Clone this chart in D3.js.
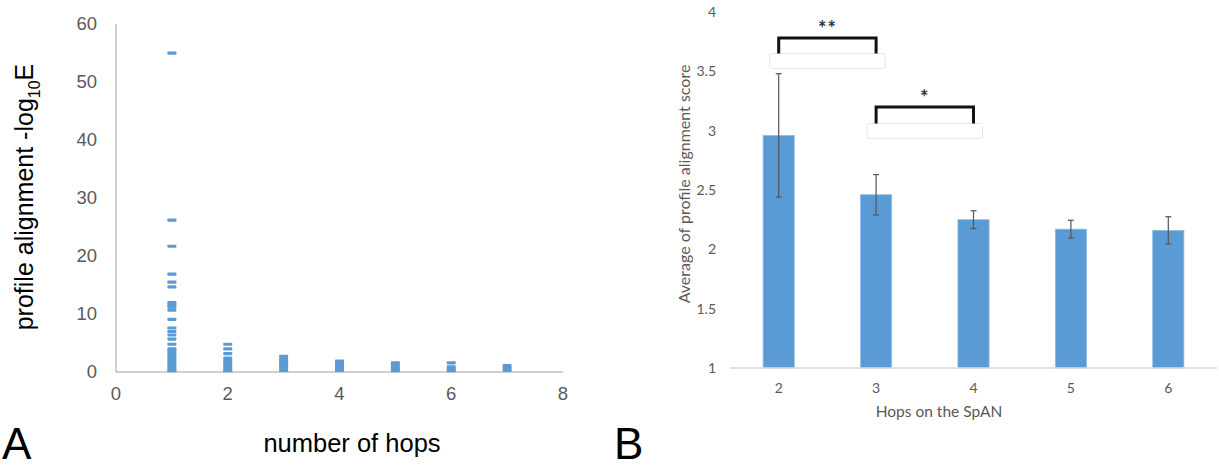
<!DOCTYPE html>
<html>
<head>
<meta charset="utf-8">
<script src="https://cdn.jsdelivr.net/npm/d3@7"></script>
<style>
  body { margin: 0; background: #fff; }
  svg { display: block; }
</style>
</head>
<body>
<svg id="chart" width="1219" height="469"></svg>
<script>
// Panel A: profile alignment (-log10 E) against number of hops
const hops = [1, 2, 3, 4, 5, 6, 7];
const scores = [
  [55, 26.2, 21.7, 16.9, 15.5, 14.7, 12.0, 11.6, 11.2, 10.7, 9.1, 7.6, 7.0, 6.4, 5.7, 4.8,
   4.0, 3.6, 3.2, 2.8, 2.4, 2.0, 1.6, 1.2, 0.8, 0.4, 0.1],
  [4.8, 4.0, 3.2, 2.4, 2.0, 1.6, 1.2, 0.8, 0.4, 0.1],
  [2.7, 2.3, 1.9, 1.5, 1.1, 0.7, 0.3],
  [1.9, 1.5, 1.1, 0.7, 0.3],
  [1.6, 1.2, 0.8, 0.4, 0.1],
  [1.6, 0.9, 0.5, 0.1],
  [1.1, 0.7, 0.3]
];
const xTicksA = [0, 2, 4, 6, 8];
const yTicksA = [0, 10, 20, 30, 40, 50, 60];

// Panel B: average profile alignment score by hops on the SpAN
const hopCats = ['2', '3', '4', '5', '6'];
const avgScore = [2.96, 2.46, 2.25, 2.17, 2.16];
const errScore = [0.52, 0.17, 0.075, 0.075, 0.115];
const yTicksB = [1, 1.5, 2, 2.5, 3, 3.5, 4];
const yTickLabelsB = ['1', '1.5', '2', '2.5', '3', '3.5', '4'];
const sigPairs = [
  { a: '2', b: '3', label: '**', top: 3.78, leg: 3.65 },
  { a: '3', b: '4', label: '*', top: 3.20, leg: 3.06 }
];

const svg = d3.select('#chart');
const blue = '#5b9bd5';
const grey = '#595959';

// ---------- panel A ----------
const xA = d3.scaleLinear().domain([0, 8]).range([116, 563]);
const yA = d3.scaleLinear().domain([0, 60]).range([372, 24]);

const gA = svg.append('g').attr('font-family', 'Liberation Sans, Arial, sans-serif');

gA.append('line')
  .attr('x1', xA(0)).attr('x2', xA(0))
  .attr('y1', yA(60)).attr('y2', yA(0))
  .attr('stroke', '#bfbfbf').attr('stroke-width', 1.5);
gA.append('line')
  .attr('x1', xA(0)).attr('x2', xA(8))
  .attr('y1', yA(0)).attr('y2', yA(0))
  .attr('stroke', '#bfbfbf').attr('stroke-width', 1.5);

gA.selectAll('.ytA')
  .data(yTicksA)
  .enter()
  .append('text')
  .attr('x', 97)
  .attr('y', d => yA(d))
  .attr('dy', '0.35em')
  .attr('text-anchor', 'end')
  .attr('font-size', 18.5)
  .attr('fill', grey)
  .text(d => d);

gA.selectAll('.xtA')
  .data(xTicksA)
  .enter()
  .append('text')
  .attr('x', d => xA(d))
  .attr('y', 400)
  .attr('text-anchor', 'middle')
  .attr('font-size', 18.5)
  .attr('fill', grey)
  .text(d => d);

const pts = [];
hops.forEach((h, i) => scores[i].forEach(v => pts.push({ h, v })));

gA.selectAll('.pt')
  .data(pts)
  .enter()
  .append('rect')
  .attr('x', d => xA(d.h) - 4.5)
  .attr('y', d => Math.min(yA(d.v) - 1.5, yA(0) - 3))
  .attr('width', 9)
  .attr('height', 3.2)
  .attr('rx', 0.8)
  .attr('fill', blue);

const yTitleA = gA.append('text')
  .attr('transform', 'translate(33,197) rotate(-90)')
  .attr('text-anchor', 'middle')
  .attr('font-size', 25)
  .attr('fill', '#000');
yTitleA.append('tspan').text('profile alignment -log');
yTitleA.append('tspan').attr('font-size', 16).attr('dy', 7).text('10');
yTitleA.append('tspan').attr('dy', -7).text('E');

gA.append('text')
  .attr('x', 352).attr('y', 452)
  .attr('text-anchor', 'middle')
  .attr('font-size', 25.5)
  .attr('fill', '#000')
  .text('number of hops');

svg.append('text')
  .attr('x', 2).attr('y', 459)
  .attr('font-family', 'Liberation Sans, Arial, sans-serif')
  .attr('font-size', 44)
  .text('A');

// ---------- panel B ----------
const xB = d3.scaleBand().domain(hopCats).range([730, 1217]).paddingInner(0.68).paddingOuter(0.34);
const yB = d3.scaleLinear().domain([1, 4]).range([368, 12]);

const gB = svg.append('g').attr('font-family', 'Lato, Open Sans, sans-serif');

gB.selectAll('.ytB')
  .data(yTicksB)
  .enter()
  .append('text')
  .attr('x', 716)
  .attr('y', d => yB(d))
  .attr('dy', '0.35em')
  .attr('text-anchor', 'end')
  .attr('font-size', 14)
  .attr('fill', grey)
  .text((d, i) => yTickLabelsB[i]);

gB.selectAll('.bar')
  .data(avgScore)
  .enter()
  .append('rect')
  .attr('x', (d, i) => xB(hopCats[i]))
  .attr('y', d => yB(d))
  .attr('width', xB.bandwidth())
  .attr('height', d => yB(1) - yB(d))
  .attr('fill', blue)
  .attr('stroke', '#8fbde6')
  .attr('stroke-width', 0.8);

gB.append('line')
  .attr('x1', 730).attr('x2', 1217)
  .attr('y1', yB(1)).attr('y2', yB(1))
  .attr('stroke', '#d9d9d9').attr('stroke-width', 1.5);

const err = gB.selectAll('.err')
  .data(avgScore)
  .enter()
  .append('g')
  .attr('stroke', '#555')
  .attr('stroke-width', 1.2);
const cx = i => xB(hopCats[i]) + xB.bandwidth() / 2;
err.append('line')
  .attr('x1', (d, i) => cx(i)).attr('x2', (d, i) => cx(i))
  .attr('y1', (d, i) => yB(d + errScore[i])).attr('y2', (d, i) => yB(d - errScore[i]));
err.append('line')
  .attr('x1', (d, i) => cx(i) - 3).attr('x2', (d, i) => cx(i) + 3)
  .attr('y1', (d, i) => yB(d + errScore[i])).attr('y2', (d, i) => yB(d + errScore[i]));
err.append('line')
  .attr('x1', (d, i) => cx(i) - 3).attr('x2', (d, i) => cx(i) + 3)
  .attr('y1', (d, i) => yB(d - errScore[i])).attr('y2', (d, i) => yB(d - errScore[i]));

gB.selectAll('.xtB')
  .data(hopCats)
  .enter()
  .append('text')
  .attr('x', d => xB(d) + xB.bandwidth() / 2)
  .attr('y', 393)
  .attr('text-anchor', 'middle')
  .attr('font-size', 14)
  .attr('fill', grey)
  .text(d => d);

gB.append('text')
  .attr('transform', 'translate(690,184) rotate(-90)')
  .attr('text-anchor', 'middle')
  .attr('font-size', 16)
  .attr('fill', grey)
  .text('Average of profile alignment score');

gB.append('text')
  .attr('x', 939).attr('y', 417)
  .attr('text-anchor', 'middle')
  .attr('font-size', 15.5)
  .attr('fill', grey)
  .text('Hops on the SpAN');

// significance brackets with the faint text boxes under them
sigPairs.forEach(s => {
  const x1 = cx(hopCats.indexOf(s.a)), x2 = cx(hopCats.indexOf(s.b));
  gB.append('rect')
    .attr('x', x1 - 9).attr('y', yB(s.leg))
    .attr('width', x2 - x1 + 18).attr('height', 15)
    .attr('rx', 2)
    .attr('fill', '#fff').attr('stroke', '#e0e0e0').attr('stroke-width', 0.8);
  gB.append('path')
    .attr('d', `M${x1},${yB(s.leg)}V${yB(s.top)}H${x2}V${yB(s.leg)}`)
    .attr('fill', 'none')
    .attr('stroke', '#111')
    .attr('stroke-width', 3);
  gB.append('text')
    .attr('x', (x1 + x2) / 2)
    .attr('y', yB(s.top) - 2)
    .attr('text-anchor', 'middle')
    .attr('font-size', 20)
    .attr('font-weight', 'bold')
    .attr('letter-spacing', 1)
    .attr('fill', '#333')
    .text(s.label);
});

svg.append('text')
  .attr('x', 614).attr('y', 459)
  .attr('font-family', 'Liberation Sans, Arial, sans-serif')
  .attr('font-size', 44)
  .text('B');
</script>
</body>
</html>
